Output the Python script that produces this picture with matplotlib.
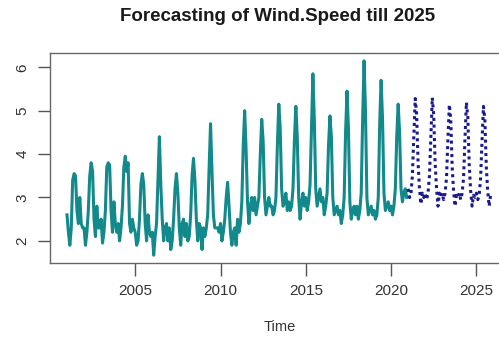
import numpy as np
import matplotlib
matplotlib.use("Agg")
import matplotlib.pyplot as plt

plt.rcParams['font.family'] = ['Liberation Sans', 'DejaVu Sans']

# Monthly mean wind speed, Jan 2001 - Dec 2020 (one row per year)
observed = [
    [2.60, 2.20, 1.90, 2.30, 3.40, 3.55, 3.50, 2.70, 2.40, 3.00, 2.40, 2.30],  # 2001
    [2.30, 1.90, 2.20, 2.70, 3.50, 3.80, 3.60, 2.50, 2.10, 2.80, 2.30, 2.30],  # 2002
    [2.50, 1.95, 2.20, 2.70, 3.70, 3.80, 3.75, 2.70, 2.20, 2.90, 2.40, 2.20],  # 2003
    [2.40, 2.00, 2.30, 2.80, 3.70, 3.95, 3.60, 3.80, 2.40, 2.20, 2.50, 2.30],  # 2004
    [2.20, 1.90, 2.00, 2.50, 3.30, 3.55, 3.30, 2.40, 2.00, 2.60, 2.20, 2.10],  # 2005
    [2.20, 1.67, 2.10, 2.40, 3.40, 4.40, 3.30, 2.50, 2.00, 2.30, 2.40, 2.00],  # 2006
    [2.30, 1.80, 2.00, 2.50, 3.20, 3.55, 3.10, 2.30, 1.90, 2.40, 2.50, 2.10],  # 2007
    [2.40, 2.00, 2.10, 2.60, 3.50, 3.90, 3.40, 2.50, 2.00, 2.40, 2.30, 1.80],  # 2008
    [2.30, 2.10, 2.30, 2.60, 3.70, 4.70, 3.60, 2.60, 2.30, 2.30, 2.30, 2.20],  # 2009
    [2.40, 2.00, 2.20, 2.50, 3.00, 3.35, 2.80, 2.20, 1.90, 2.20, 2.30, 1.90],  # 2010
    [2.50, 2.20, 2.40, 2.90, 4.20, 5.00, 4.10, 2.90, 2.40, 2.80, 3.00, 2.70],  # 2011
    [3.00, 2.60, 2.80, 3.00, 4.00, 4.80, 4.30, 3.00, 2.60, 2.80, 3.00, 2.80],  # 2012
    [2.80, 2.60, 2.70, 3.00, 4.20, 5.15, 4.60, 3.20, 2.80, 2.90, 3.10, 2.70],  # 2013
    [2.90, 2.70, 2.80, 3.20, 4.30, 5.10, 4.40, 3.00, 2.50, 2.90, 3.10, 2.80],  # 2014
    [3.00, 2.70, 2.90, 3.30, 4.60, 5.85, 4.80, 3.20, 2.80, 3.00, 3.20, 2.90],  # 2015
    [3.00, 2.60, 2.80, 3.10, 4.20, 4.88, 4.40, 3.00, 2.60, 2.70, 2.80, 2.60],  # 2016
    [2.70, 2.40, 2.60, 3.00, 4.50, 5.45, 4.60, 2.90, 2.50, 2.70, 2.80, 2.60],  # 2017
    [2.80, 2.50, 2.70, 3.10, 4.80, 6.15, 5.00, 3.00, 2.60, 2.70, 2.80, 2.60],  # 2018
    [2.70, 2.50, 2.60, 3.00, 4.70, 5.70, 4.80, 3.10, 2.70, 2.80, 2.90, 2.70],  # 2019
    [2.80, 2.60, 2.80, 3.20, 4.40, 5.15, 4.50, 3.20, 2.90, 3.10, 3.20, 3.00],  # 2020
]

# Point forecast, Jan 2021 - Dec 2025
forecast = [
    [3.20, 3.00, 3.10, 3.50, 4.40, 5.28, 4.90, 3.80, 3.20, 2.85, 3.10, 3.00],  # 2021
    [3.10, 2.95, 3.10, 3.50, 4.40, 5.30, 4.90, 3.80, 3.20, 2.80, 3.10, 3.00],  # 2022
    [3.10, 2.95, 3.10, 3.45, 4.35, 5.14, 4.80, 3.70, 3.15, 2.80, 3.05, 3.00],  # 2023
    [3.10, 2.95, 3.10, 3.45, 4.35, 5.19, 4.85, 3.75, 3.15, 2.80, 3.05, 3.00],  # 2024
    [3.10, 2.95, 3.05, 3.45, 4.30, 5.10, 4.80, 3.70, 3.15, 2.80, 3.05, 3.00],  # 2025
]

start_obs = 2001
start_fc = 2021
x_ticks = [2005, 2010, 2015, 2020, 2025]
y_ticks = [2, 3, 4, 5, 6]

obs = np.array(observed).ravel()
fc = np.array(forecast).ravel()
t_obs = start_obs + np.arange(obs.size) / 12
t_fc = start_fc + np.arange(fc.size) / 12

fig = plt.figure(figsize=(4.99, 3.45), dpi=100)
ax = fig.add_axes([0.1002, 0.2377, 0.9198, 0.6087])

ax.plot(t_obs, obs, color='#12898a', lw=2.2, solid_joinstyle='round')
ax.plot(t_fc, fc, color='#1a1a8c', lw=2.2, linestyle=(0, (1, 1.2)))

# R-style 4% padding
allx = np.concatenate([t_obs, t_fc])
ally = np.concatenate([obs, fc])
dx = 0.04 * (allx.max() - allx.min())
dy = 0.04 * (ally.max() - ally.min())
ax.set_xlim(allx.min() - dx, allx.max() + dx)
ax.set_ylim(ally.min() - dy, ally.max() + dy)

ax.set_xticks(x_ticks)
ax.set_yticks(y_ticks)
ax.set_xticklabels([str(v) for v in x_ticks], fontsize=11, color='#333333')
ax.set_yticklabels([str(v) for v in y_ticks], fontsize=11, color='#333333',
                   rotation=90, va='center')
ax.tick_params(axis='both', length=9, width=1, color='#555555', pad=6)
for s in ax.spines.values():
    s.set_color('#666666')
    s.set_linewidth(1)

ax.set_xlabel('Time', fontsize=10.5, color='#333333', labelpad=16)
fig.text(0.557, 0.953, 'Forecasting of Wind.Speed till 2025', ha='center', va='center',
         fontsize=13.5, fontweight='bold', color='#1a1a1a')

fig.savefig('out.png', dpi=100)
